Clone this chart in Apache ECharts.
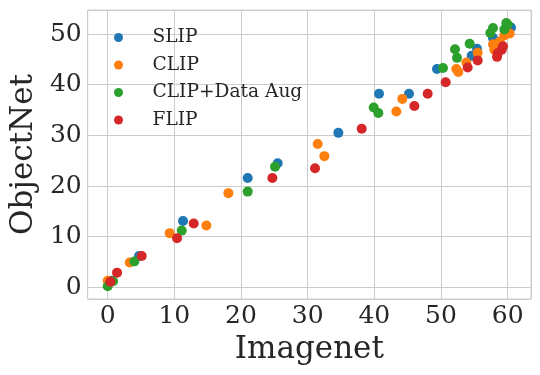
<!DOCTYPE html>
<html>
<head>
<meta charset="utf-8">
<script src="https://cdn.jsdelivr.net/npm/echarts@6/dist/echarts.min.js"></script>
<style>
html,body{margin:0;padding:0;background:#fff;}
#chart{width:540px;height:375px;}
</style>
</head>
<body>
<div id="chart"></div>
<script>
// [Imagenet, ObjectNet]
const seriesNames = ['SLIP', 'CLIP', 'CLIP+Data Aug', 'FLIP'];
const slipData = [
  [0.6, 1.3], [4.7, 6.2], [11.3, 13.1], [21.0, 21.6], [25.5, 24.5], [34.6, 30.5],
  [40.7, 38.2], [45.2, 38.2], [49.4, 43.1], [54.6, 45.7], [55.4, 47.1],
  [57.8, 49.2], [58.7, 48.5], [60.5, 51.3]
];
const clipData = [
  [0.0, 1.3], [3.3, 4.9], [9.3, 10.7], [14.8, 12.2], [18.1, 18.6], [31.5, 28.3],
  [32.5, 25.9], [43.3, 34.7], [44.2, 37.2], [52.3, 43.1], [52.6, 42.5],
  [53.8, 44.4], [55.5, 46.3], [57.8, 48.0], [58.0, 46.9], [58.8, 48.5],
  [59.5, 49.7], [60.3, 50.1]
];
const clipAugData = [
  [0.0, 0.2], [0.8, 1.2], [4.0, 5.1], [11.1, 11.2], [21.0, 18.9], [25.1, 23.8],
  [39.9, 35.5], [40.6, 34.4], [50.3, 43.3], [52.4, 45.3], [52.1, 47.0],
  [54.3, 48.1], [57.4, 50.2], [57.8, 51.2], [59.5, 50.9], [60.0, 51.9],
  [59.8, 52.2]
];
const flipData = [
  [0.4, 1.1], [1.4, 2.9], [5.1, 6.2], [10.4, 9.7], [12.9, 12.6], [24.7, 21.6],
  [31.1, 23.5], [38.1, 31.3], [46.0, 35.8], [48.0, 38.2], [50.7, 40.5],
  [54.0, 43.4], [55.5, 44.8], [58.4, 45.5], [58.5, 46.2], [59.1, 46.9],
  [59.3, 47.6]
];
const colors = ['#1f77b4', '#ff7f0e', '#2ca02c', '#d62728'];
const xTitle = 'Imagenet';
const yTitle = 'ObjectNet';

const allData = [slipData, clipData, clipAugData, flipData];
const font = 'DejaVu Serif';
const textColor = '#262626';
const gridColor = '#cccccc';

const chart = echarts.init(document.getElementById('chart'), null, {renderer: 'canvas'});
const tickFmt = v => (Math.abs(v % 10) < 1e-9 ? String(v) : '');
chart.setOption({
  animation: false,
  backgroundColor: '#ffffff',
  color: colors,
  grid: {left: 83, top: 10, right: 9, bottom: 76, show: true, borderColor: gridColor, borderWidth: 1, containLabel: false},
  legend: {
    orient: 'vertical', left: 109, top: 23,
    itemWidth: 46, itemHeight: 9, itemGap: 8.5, icon: 'circle',
    textStyle: {fontFamily: font, fontSize: 18.6, color: textColor, lineHeight: 18.6, padding: [0, 0, 0, 6]},
    data: seriesNames
  },
  xAxis: {
    type: 'value', min: -3.0, max: 63.5, minInterval: 10, maxInterval: 10,
    name: xTitle, nameLocation: 'middle', nameGap: 35,
    nameTextStyle: {fontFamily: font, fontSize: 31, color: textColor},
    axisLine: {show: false}, axisTick: {show: false},
    axisLabel: {fontFamily: font, fontSize: 25, color: textColor, margin: 5, formatter: tickFmt, showMinLabel: false, showMaxLabel: false},
    splitLine: {show: true, lineStyle: {color: gridColor, width: 1}}
  },
  yAxis: {
    type: 'value', min: -2.3, max: 54.75, minInterval: 10, maxInterval: 10,
    name: yTitle, nameLocation: 'middle', nameGap: 46, nameRotate: 90,
    nameTextStyle: {fontFamily: font, fontSize: 31, color: textColor},
    axisLine: {show: false}, axisTick: {show: false},
    axisLabel: {fontFamily: font, fontSize: 25, color: textColor, margin: 6, formatter: tickFmt, showMinLabel: false, showMaxLabel: false},
    splitLine: {show: true, lineStyle: {color: gridColor, width: 1}}
  },
  series: allData.map((d, i) => ({
    name: seriesNames[i], type: 'scatter', data: d, symbol: 'circle', symbolSize: 10,
    itemStyle: {color: colors[i], opacity: 1}
  }))
});
</script>
</body>
</html>
